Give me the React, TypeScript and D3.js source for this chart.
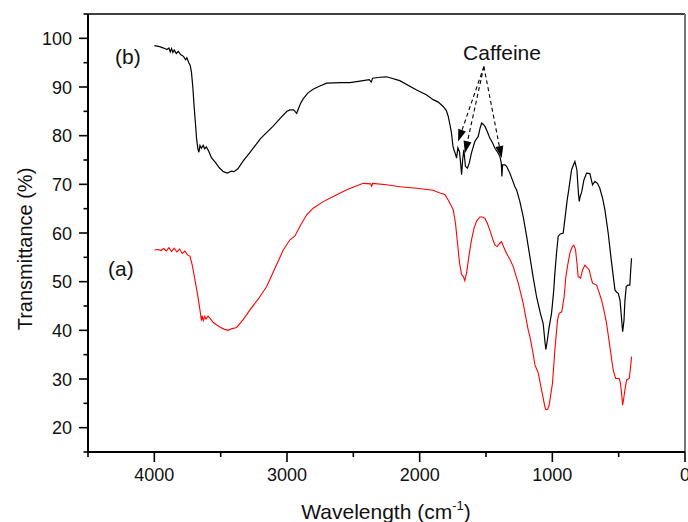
import React from "react";
import * as d3 from "d3";

const curveB: [number, number][] = [
  [4000, 98.5], [3960, 98.3], [3930, 98.0], [3905, 97.7], [3890, 98.0], [3880, 97.2], [3870, 97.9], [3860, 97.1], [3850, 97.6], [3835, 96.9], [3820, 97.3], [3800, 96.6], [3780, 96.3], [3765, 95.6], [3755, 96.0], [3740, 95.0], [3730, 94.5], [3720, 93.0], [3710, 90.0], [3700, 86.0], [3690, 82.5], [3682, 79.5], [3672, 77.3], [3664, 76.6], [3656, 78.0], [3645, 77.4], [3632, 78.0], [3620, 77.3], [3608, 77.7], [3590, 76.8], [3570, 75.5], [3540, 74.5], [3510, 73.4], [3480, 72.6], [3450, 72.3], [3420, 72.7], [3400, 72.6], [3370, 73.2], [3330, 74.8], [3280, 76.5], [3200, 79.4], [3106, 81.9], [3050, 83.6], [3000, 85.0], [2978, 85.3], [2950, 85.3], [2927, 84.6], [2900, 86.5], [2877, 87.6], [2842, 88.8], [2800, 89.6], [2752, 90.2], [2701, 90.8], [2600, 90.9], [2526, 90.9], [2450, 91.2], [2380, 91.5], [2365, 91.0], [2355, 91.8], [2300, 92.0], [2249, 92.1], [2150, 91.3], [2023, 89.4], [1950, 88.4], [1898, 87.4], [1860, 86.9], [1823, 86.0], [1800, 85.2], [1785, 84.0], [1770, 82.0], [1760, 80.5], [1750, 78.0], [1742, 77.1], [1730, 76.2], [1722, 75.4], [1712, 77.5], [1700, 76.7], [1690, 74.0], [1684, 72.0], [1676, 75.0], [1667, 77.1], [1655, 73.7], [1640, 73.3], [1625, 74.5], [1609, 76.5], [1584, 78.8], [1565, 79.6], [1559, 79.8], [1545, 81.5], [1533, 82.6], [1520, 82.3], [1508, 81.9], [1490, 80.8], [1471, 79.5], [1450, 78.5], [1433, 77.4], [1410, 76.5], [1395, 75.7], [1385, 74.4], [1380, 71.6], [1375, 74.0], [1357, 74.0], [1345, 73.7], [1320, 72.3], [1282, 69.5], [1270, 68.9], [1245, 66.5], [1220, 63.4], [1195, 59.5], [1169, 55.1], [1145, 51.0], [1119, 46.9], [1090, 43.5], [1069, 41.4], [1055, 37.5], [1049, 36.1], [1040, 37.5], [1025, 40.5], [1006, 43.5], [990, 48.0], [981, 51.7], [968, 56.0], [956, 59.3], [940, 59.8], [918, 60.0], [906, 62.7], [888, 66.8], [876, 68.9], [855, 73.0], [830, 74.7], [815, 73.0], [803, 68.0], [797, 66.5], [790, 67.5], [778, 68.5], [762, 70.9], [742, 72.3], [717, 72.2], [697, 69.9], [679, 70.6], [660, 70.2], [642, 69.2], [620, 67.0], [604, 64.8], [579, 60.0], [553, 53.8], [528, 48.3], [515, 47.8], [503, 47.6], [490, 46.2], [480, 43.0], [470, 39.7], [460, 42.0], [453, 46.0], [443, 49.0], [430, 49.3], [416, 49.3], [410, 52.0], [403, 54.8],
];

const curveA: [number, number][] = [
  [4000, 56.5], [3970, 56.6], [3950, 56.4], [3930, 56.8], [3910, 56.3], [3890, 57.0], [3870, 56.2], [3850, 56.9], [3830, 56.1], [3810, 56.7], [3790, 55.8], [3770, 56.3], [3750, 55.5], [3731, 55.2], [3715, 53.5], [3694, 50.4], [3675, 47.5], [3656, 44.2], [3645, 42.0], [3640, 43.0], [3631, 42.0], [3620, 42.9], [3610, 42.3], [3595, 42.9], [3581, 42.5], [3555, 41.6], [3530, 41.1], [3500, 40.6], [3470, 40.2], [3443, 40.0], [3420, 40.3], [3380, 40.6], [3330, 42.2], [3279, 44.2], [3215, 46.5], [3153, 49.0], [3090, 52.8], [3028, 56.5], [2978, 58.6], [2940, 59.4], [2900, 61.5], [2850, 63.8], [2802, 65.1], [2730, 66.4], [2651, 67.5], [2550, 68.9], [2425, 70.2], [2370, 70.1], [2362, 69.6], [2355, 70.2], [2249, 69.9], [2150, 69.5], [2023, 69.2], [1900, 68.8], [1847, 68.2], [1810, 67.9], [1785, 66.8], [1760, 65.5], [1747, 64.8], [1730, 62.0], [1715, 58.0], [1700, 54.0], [1685, 51.5], [1670, 51.0], [1660, 50.2], [1645, 52.0], [1630, 55.0], [1610, 58.5], [1590, 61.0], [1570, 62.5], [1545, 63.3], [1525, 63.3], [1508, 63.0], [1490, 62.0], [1471, 60.6], [1450, 58.8], [1433, 57.5], [1415, 57.2], [1400, 57.8], [1382, 58.2], [1365, 57.0], [1345, 55.8], [1320, 54.6], [1295, 53.1], [1257, 49.7], [1220, 45.6], [1182, 40.1], [1169, 38.7], [1150, 36.0], [1131, 32.9], [1106, 31.2], [1081, 27.7], [1056, 24.3], [1049, 23.7], [1035, 23.8], [1024, 24.6], [999, 29.1], [979, 36.6], [961, 42.1], [949, 43.5], [929, 43.8], [911, 46.9], [898, 51.0], [886, 53.1], [868, 55.8], [850, 57.2], [838, 57.5], [825, 56.5], [815, 54.0], [805, 51.0], [795, 50.9], [787, 50.7], [772, 52.4], [755, 53.4], [740, 53.0], [722, 52.4], [710, 51.0], [697, 49.7], [667, 49.3], [650, 48.0], [629, 46.2], [610, 44.0], [591, 41.4], [566, 36.6], [541, 31.8], [523, 30.1], [496, 30.1], [486, 29.1], [478, 27.0], [470, 24.6], [462, 26.0], [453, 27.7], [440, 29.8], [420, 30.1], [410, 32.5], [403, 34.6],
];

const xMajor = [4000, 3000, 2000, 1000, 0];
const xMinor = [4500, 3500, 2500, 1500, 500];
const yMajor = [20, 30, 40, 50, 60, 70, 80, 90, 100];
const yMinor = [15, 25, 35, 45, 55, 65, 75, 85, 95, 105];

const arrowApex: [number, number] = [1516, 94.2];
const arrowTargets: [number, number][] = [[1710, 78.8], [1659, 76.4], [1382, 75.4]];

const FONT = "'Liberation Sans', Arial, Helvetica, sans-serif";

export default function App() {
  const W = 688, H = 522;
  const left = 88, right = 685, top = 14, bottom = 452;
  const x = d3.scaleLinear().domain([4500, 0]).range([left, right]);
  const y = d3.scaleLinear().domain([15, 105]).range([bottom, top]);
  const line = d3.line<[number, number]>().x(d => x(d[0])).y(d => y(d[1]));

  const ax = x(arrowApex[0]), ay = y(arrowApex[1]);
  const arrows = arrowTargets.map((t, i) => {
    const tx = x(t[0]), ty = y(t[1]);
    const dx = tx - ax, dy = ty - ay;
    const len = Math.sqrt(dx * dx + dy * dy);
    const ux = dx / len, uy = dy / len;
    const hl = 12, hw = 4;
    const bx = tx - ux * hl, by = ty - uy * hl;
    const px = -uy, py = ux;
    const pts = `${tx},${ty} ${bx + px * hw},${by + py * hw} ${bx - px * hw},${by - py * hw}`;
    return (
      <g key={i}>
        <line x1={ax} y1={ay} x2={bx} y2={by} stroke="#000" strokeWidth={1.1} strokeDasharray="4,3" />
        <polygon points={pts} fill="#000" />
      </g>
    );
  });

  return (
    <svg width={W} height={H} style={{ position: "absolute", left: 0, top: 0, background: "#fff" }} fontFamily={FONT}>
      <rect x={0} y={0} width={W} height={H} fill="#fff" />
      <path d={line(curveA) || ""} fill="none" stroke="#ff0000" strokeWidth={1.1} />
      <path d={line(curveB) || ""} fill="none" stroke="#000" strokeWidth={1.2} />
      {arrows}
      <line x1={left} y1={top} x2={right} y2={top} stroke="#000" strokeWidth={1.6} />
      <line x1={right} y1={top} x2={right} y2={bottom} stroke="#777" strokeWidth={2} />
      <line x1={left} y1={top} x2={left} y2={bottom + 1} stroke="#000" strokeWidth={2} />
      <line x1={left - 1} y1={bottom} x2={right} y2={bottom} stroke="#000" strokeWidth={2} />
      {xMajor.map(v => (
        <g key={"xM" + v}>
          <line x1={x(v)} y1={bottom} x2={x(v)} y2={bottom + 10} stroke="#000" strokeWidth={1.6} />
          <text x={x(v)} y={481} textAnchor="middle" fontSize={18} fill="#111">{v}</text>
        </g>
      ))}
      {xMinor.map(v => (
        <line key={"xm" + v} x1={x(v)} y1={bottom} x2={x(v)} y2={bottom + 5} stroke="#000" strokeWidth={1.6} />
      ))}
      {yMajor.map(v => (
        <g key={"yM" + v}>
          <line x1={left} y1={y(v)} x2={left - 9} y2={y(v)} stroke="#000" strokeWidth={1.6} />
          <text x={72} y={y(v) + 6.5} textAnchor="end" fontSize={18} fill="#111">{v}</text>
        </g>
      ))}
      {yMinor.map(v => (
        <line key={"ym" + v} x1={left} y1={y(v)} x2={left - 4.5} y2={y(v)} stroke="#000" strokeWidth={1.6} />
      ))}
      <text x={386} y={519} textAnchor="middle" fontSize={21} fill="#111">
        Wavelength (cm<tspan dy={-9} fontSize={13}>-1</tspan><tspan dy={9}>)</tspan>
      </text>
      <text transform={`translate(32,249) rotate(-90)`} textAnchor="middle" fontSize={20} fill="#111">Transmittance (%)</text>
      <text x={502} y={60} textAnchor="middle" fontSize={21} fill="#111">Caffeine</text>
      <text x={115} y={64} fontSize={21} fill="#111">(b)</text>
      <text x={108} y={276} fontSize={21} fill="#111">(a)</text>
    </svg>
  );
}
